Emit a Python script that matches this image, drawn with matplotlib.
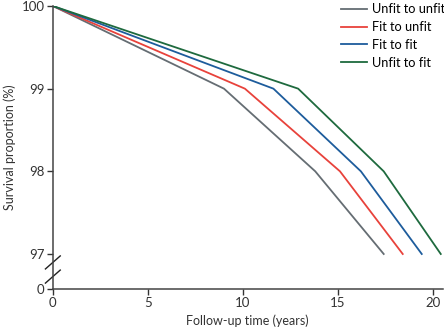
import numpy as np
import matplotlib
matplotlib.use("Agg")
import matplotlib.pyplot as plt

plt.rcParams['font.family'] = ['Lato', 'DejaVu Sans']

# Data: follow-up years and survival (%)
labels = ['Unfit to unfit', 'Fit to unfit', 'Fit to fit', 'Unfit to fit']
colors = ['#656d73', '#e8423b', '#1d5c9c', '#1e6a3e']
years = [
    [0, 9.0, 13.8, 17.4],
    [0, 10.1, 15.1, 18.4],
    [0, 11.6, 16.2, 19.4],
    [0, 12.9, 17.4, 20.4],
]
survival = [
    [100, 99.0, 98.0, 97.0],
    [100, 99.0, 98.0, 97.0],
    [100, 99.0, 98.0, 97.0],
    [100, 99.0, 98.0, 97.0],
]
yticks = [0, 97, 98, 99, 100]
xticks = [0, 5, 10, 15, 20]

# broken y axis: squeeze 0-97 into a short stretch below 97
low = 96.576


def fwd(y):
    y = np.asarray(y, dtype=float)
    return np.where(y >= 97, y, low + y * (97 - low) / 97)


def inv(y):
    y = np.asarray(y, dtype=float)
    return np.where(y >= 97, y, (y - low) * 97 / (97 - low))


fig = plt.figure(figsize=(4.44, 3.33), dpi=100)
ax = fig.add_axes([0.119, 0.132, 0.878, 0.85])
ax.set_yscale('function', functions=(fwd, inv))

for x, y, c, lab in zip(years, survival, colors, labels):
    ax.plot(x, y, color=c, lw=1.3, label=lab)

ax.set_xlim(0, 20.5)
ax.set_ylim(0, 100)
ax.set_xticks(xticks)
ax.set_yticks(yticks)
ax.set_yticklabels([str(t) for t in yticks])
ax.minorticks_off()
ax.tick_params(direction='out', length=4, width=1, labelsize=9.5, colors='#333333', pad=2)
for s in ['top', 'right']:
    ax.spines[s].set_visible(False)
for s in ['left', 'bottom']:
    ax.spines[s].set_color('#444444')
    ax.spines[s].set_linewidth(1.1)

ax.set_xlabel('Follow-up time (years)', fontsize=9, color='#333333')
ax.set_ylabel('Survival proportion (%)', fontsize=9, color='#333333', labelpad=4)

# break marks on y axis
for yb in [0.094, 0.044]:
    ax.plot([-0.019, 0.019], [yb - 0.023, yb + 0.023], transform=ax.transAxes,
            color='#222222', lw=1.0, clip_on=False)

ax.legend(loc='upper right', bbox_to_anchor=(1.035, 1.05), frameon=False, fontsize=9.2,
          handlelength=2.0, handletextpad=0.4, labelspacing=0.45)

fig.savefig('out.png', dpi=100)
